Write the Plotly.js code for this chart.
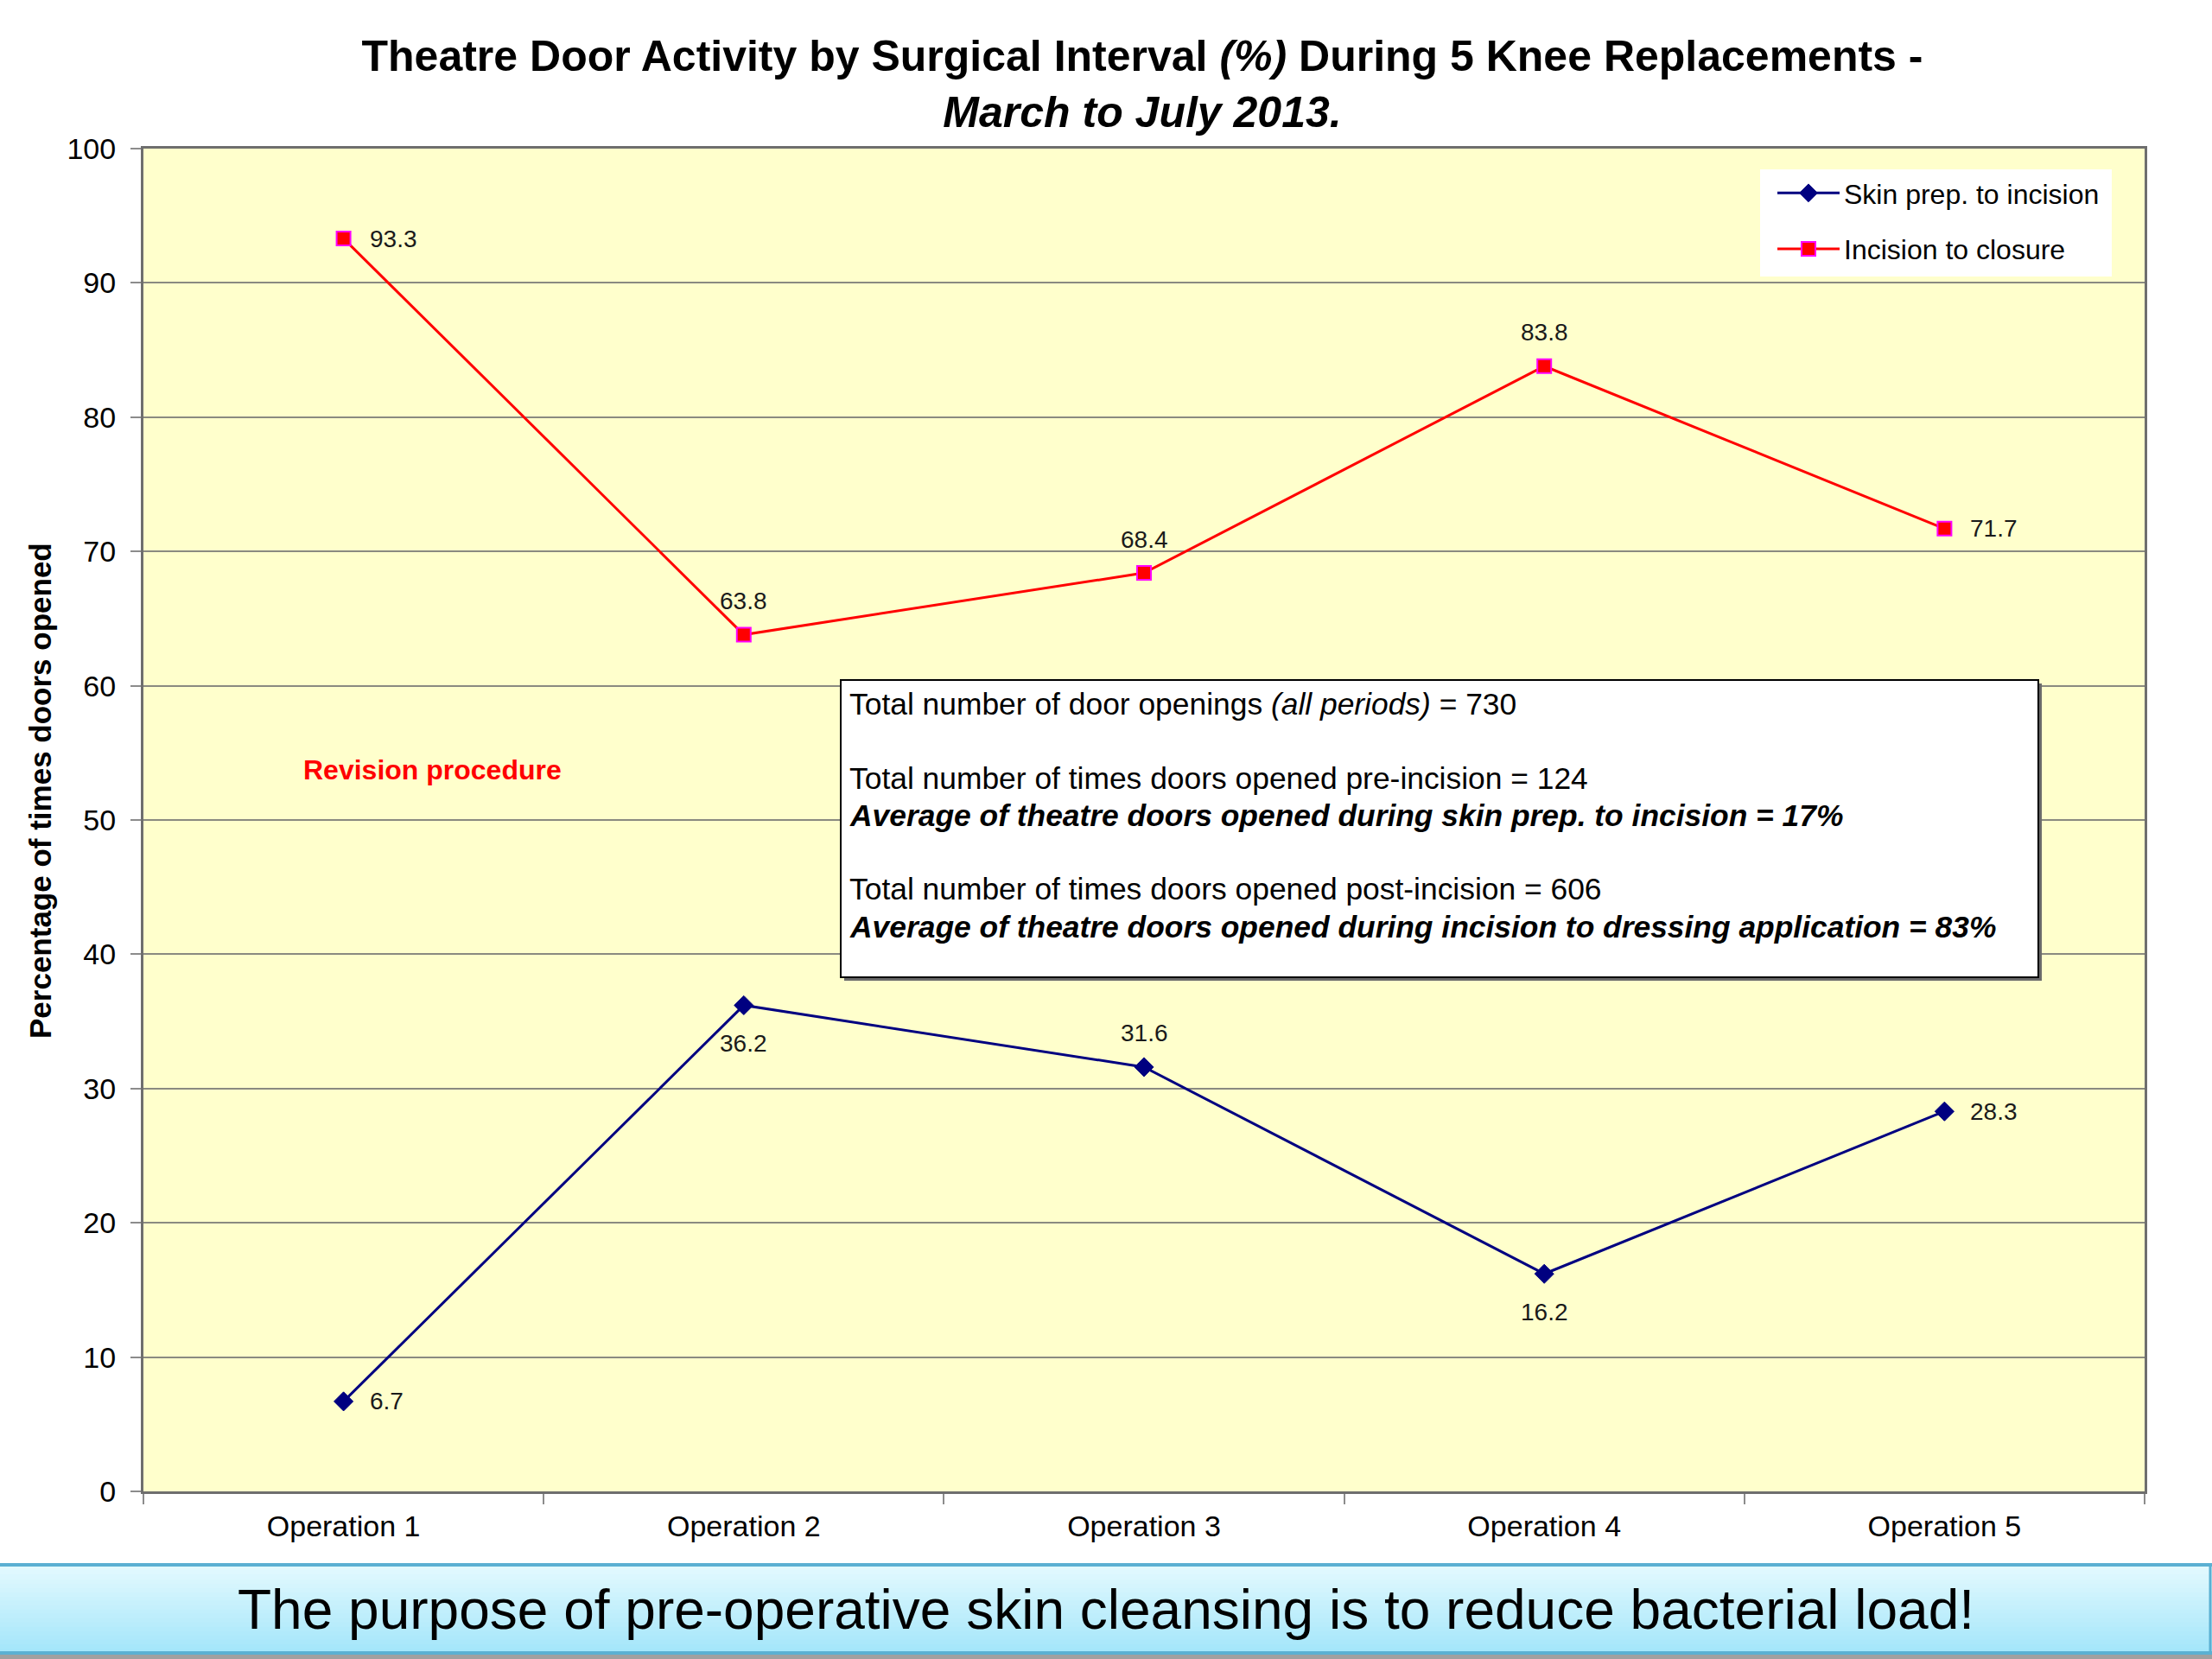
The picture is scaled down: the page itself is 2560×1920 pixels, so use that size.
<!DOCTYPE html>
<html>
<head>
<meta charset="utf-8">
<script src="https://cdn.plot.ly/plotly-3.0.1.min.js"></script>
<style>html,body{margin:0;padding:0;background:#fff;} #chart{width:2560px;height:1920px;}</style>
</head>
<body>
<div id="chart"></div>
<script>
// ---- data ----
const categories = ['Operation 1', 'Operation 2', 'Operation 3', 'Operation 4', 'Operation 5'];
const skinPrepToIncision = [6.7, 36.2, 31.6, 16.2, 28.3];
const incisionToClosure = [93.3, 63.8, 68.4, 83.8, 71.7];
const skinLabelPos = ['right', 'below', 'above', 'below', 'right'];
const incisionLabelPos = ['right', 'above', 'above', 'above', 'right'];
const yTickVals = [0, 10, 20, 30, 40, 50, 60, 70, 80, 90, 100];
const seriesNames = ['Skin prep. to incision', 'Incision to closure'];
const titleLine1 = 'Theatre Door Activity by Surgical Interval <i>(%)</i> During 5 Knee Replacements -';
const titleLine2 = '<i>March to July 2013.</i>';
const yTitle = 'Percentage of times doors opened';
const noteText = 'Revision procedure';
const boxLines = [
  {text: 'Total number of door openings <i>(all periods)</i> = 730', bold: false},
  {text: 'Total number of times doors opened pre-incision = 124', bold: false},
  {text: '<i>Average of theatre doors opened during skin prep. to incision = 17%</i>', bold: true},
  {text: 'Total number of times doors opened post-incision = 606', bold: false},
  {text: '<i>Average of theatre doors opened during incision to dressing application = 83%</i>', bold: true}
];
const bannerText = 'The purpose of pre-operative skin cleansing is to reduce bacterial load!';

// ---- layout helpers ----
const FONT = 'Liberation Sans, Arial, Helvetica, sans-serif';
const M = {l: 166, r: 78, t: 172, b: 194};
const W = 2560, H = 1920;
const PW = W - M.l - M.r, PH = H - M.t - M.b;
const px = x => (x - M.l) / PW;
const py = y => (H - M.b - y) / PH;

const traces = [
  {
    x: categories, y: skinPrepToIncision, name: seriesNames[0], type: 'scatter', mode: 'lines+markers',
    line: {color: '#000080', width: 3},
    marker: {symbol: 'diamond', size: 17, color: '#000080', line: {color: '#000080', width: 1}},
    legendgroup: 'a'
  },
  {
    x: categories, y: incisionToClosure, name: seriesNames[1], type: 'scatter', mode: 'lines+markers',
    line: {color: '#FF0000', width: 3},
    marker: {symbol: 'square', size: 16, color: '#FF0000', line: {color: '#FF00FF', width: 2}},
    legendgroup: 'b'
  }
];

function labelAnn(x, y, pos) {
  const a = {x: x, y: y, xref: 'x', yref: 'y', text: String(y), showarrow: false,
    font: {family: FONT, size: 28, color: '#1a1a1a'}};
  if (pos === 'right') { a.xanchor = 'left'; a.xshift = 28; a.yanchor = 'middle'; }
  else if (pos === 'above') { a.xanchor = 'center'; a.yanchor = 'middle'; a.yshift = 39; }
  else { a.xanchor = 'center'; a.yanchor = 'middle'; a.yshift = -44; }
  return a;
}

const annotations = [];
categories.forEach((c, i) => {
  annotations.push(labelAnn(c, skinPrepToIncision[i], skinLabelPos[i]));
  annotations.push(labelAnn(c, incisionToClosure[i], incisionLabelPos[i]));
});

// y axis title (placed as rotated text to match the reference's vertical offset)
annotations.push({xref: 'paper', yref: 'paper', x: px(46), y: py(915), text: '<b>' + yTitle + '</b>',
  textangle: -90, showarrow: false, xanchor: 'center', yanchor: 'middle',
  font: {family: FONT, size: 35, color: '#000'}});

annotations.push({xref: 'paper', yref: 'paper', x: px(500), y: py(891), text: '<b>' + noteText + '</b>',
  showarrow: false, xanchor: 'center', yanchor: 'middle', font: {family: FONT, size: 32, color: '#FF0000'}});

const boxYs = [815, 901, 944, 1029, 1073];
boxLines.forEach((l, i) => {
  annotations.push({xref: 'paper', yref: 'paper', x: px(981), y: py(boxYs[i]),
    text: l.bold ? '<b>' + l.text + '</b>' : l.text, showarrow: false, xanchor: 'left', yanchor: 'middle',
    align: 'left', font: {family: FONT, size: 35.4, color: '#000'}});
});

annotations.push({xref: 'paper', yref: 'paper', x: px(1280), y: py(1863), text: bannerText, showarrow: false,
  xanchor: 'center', yanchor: 'middle', font: {family: FONT, size: 64, color: '#000'}});

// ---- shapes ----
const shapes = [];
// legend background
shapes.push({type: 'rect', xref: 'paper', yref: 'paper', x0: px(2037), x1: px(2444), y0: py(320), y1: py(196),
  fillcolor: '#ffffff', line: {width: 0}});
// text box shadow + box
shapes.push({type: 'rect', xref: 'paper', yref: 'paper', x0: px(977), x1: px(2363), y0: py(1135), y1: py(791),
  fillcolor: '#6a6a6a', line: {width: 0}});
shapes.push({type: 'rect', xref: 'paper', yref: 'paper', x0: px(973), x1: px(2359), y0: py(1131), y1: py(787),
  fillcolor: '#ffffff', line: {color: '#000000', width: 2}});
// banner gradient
const bTop = 1812, bBot = 1913, steps = 20;
const c0 = [226, 249, 254], c1 = [164, 230, 250];
for (let s = 0; s < steps; s++) {
  const t = s / (steps - 1);
  const c = c0.map((v, k) => Math.round(v + (c1[k] - v) * t));
  const ya = bTop + (bBot - bTop) * s / steps, yb = bTop + (bBot - bTop) * (s + 1) / steps;
  shapes.push({type: 'rect', xref: 'paper', yref: 'paper', x0: px(0), x1: px(2560), y0: py(yb + 0.5), y1: py(ya),
    fillcolor: 'rgb(' + c.join(',') + ')', line: {width: 0}, layer: 'below'});
}
shapes.push({type: 'line', xref: 'paper', yref: 'paper', x0: px(0), x1: px(2560), y0: py(1811), y1: py(1811),
  line: {color: '#5BB0D2', width: 4}});
shapes.push({type: 'line', xref: 'paper', yref: 'paper', x0: px(0), x1: px(2560), y0: py(1913), y1: py(1913),
  line: {color: '#5BB0D2', width: 4}});
shapes.push({type: 'line', xref: 'paper', yref: 'paper', x0: px(2558), x1: px(2558), y0: py(1811), y1: py(1913),
  line: {color: '#5BB0D2', width: 3}});
shapes.push({type: 'rect', xref: 'paper', yref: 'paper', x0: px(0), x1: px(2560), y0: py(1920), y1: py(1915),
  fillcolor: '#a0a0a0', line: {width: 0}});

const layout = {
  width: W, height: H,
  margin: M,
  paper_bgcolor: '#ffffff',
  plot_bgcolor: '#FFFFCC',
  font: {family: FONT, color: '#000'},
  title: {
    text: titleLine1 + '<br>' + titleLine2,
    x: px(1322), xref: 'paper', xanchor: 'center',
    y: 1 - 82 / H, yref: 'container', yanchor: 'middle',
    font: {family: FONT, size: 50, weight: 'bold', color: '#000'}
  },
  xaxis: {
    type: 'category', range: [-0.5, 4.5], tickson: 'boundaries',
    ticks: 'outside', ticklen: 12, tickwidth: 2, tickcolor: '#8c8c8c',
    showgrid: false, showline: true, linecolor: '#6e6e6e', linewidth: 3, mirror: true,
    tickfont: {family: FONT, size: 34, color: '#000'}, ticklabelstandoff: 8,
    fixedrange: true
  },
  yaxis: {
    range: [0, 100], tickvals: yTickVals, ticktext: yTickVals.map(String),
    ticks: 'outside', ticklen: 12, tickwidth: 2, tickcolor: '#8c8c8c',
    showgrid: true, gridcolor: '#8a8a80', gridwidth: 2, zeroline: false,
    showline: true, linecolor: '#6e6e6e', linewidth: 3, mirror: true,
    tickfont: {family: FONT, size: 34, color: '#000'}, ticklabelstandoff: 10,
    fixedrange: true
  },
  showlegend: true,
  legend: {
    x: px(2052), y: py(196), xanchor: 'left', yanchor: 'top',
    bgcolor: 'rgba(0,0,0,0)', borderwidth: 0,
    font: {family: FONT, size: 32, color: '#000'},
    itemwidth: 72, tracegroupgap: 20, traceorder: 'grouped'
  },
  annotations: annotations,
  shapes: shapes
};

Plotly.newPlot('chart', traces, layout, {displayModeBar: false, staticPlot: true});
</script>
</body>
</html>
